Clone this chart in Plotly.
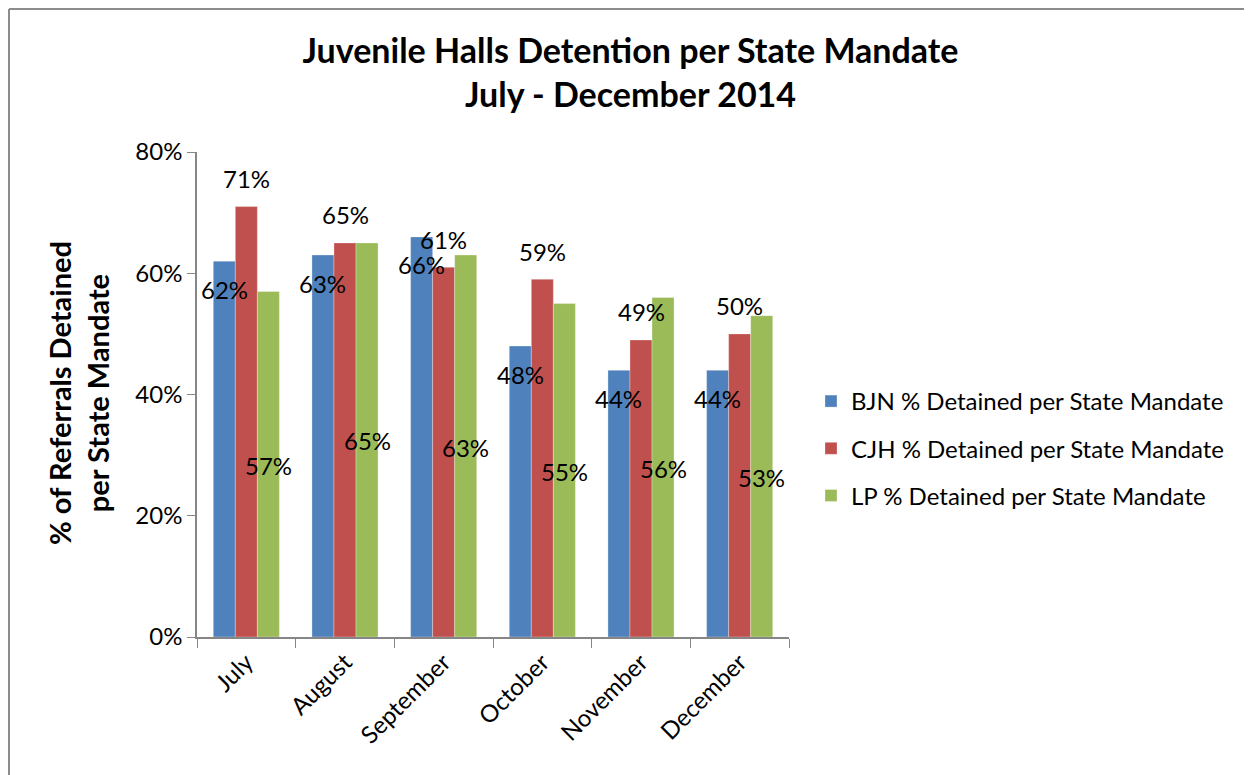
import plotly.graph_objects as go

months = ["July", "August", "September", "October", "November", "December"]
series_names = ["BJN % Detained per State Mandate",
                "CJH % Detained per State Mandate",
                "LP % Detained per State Mandate"]
bjn = [0.62, 0.63, 0.66, 0.48, 0.44, 0.44]
cjh = [0.71, 0.65, 0.61, 0.59, 0.49, 0.50]
lp = [0.57, 0.65, 0.63, 0.55, 0.56, 0.53]
colors = ["#4F81BD", "#C0504D", "#9BBB59"]
y_ticks = [0, 0.2, 0.4, 0.6, 0.8]

OFF = 8  # page body margin
W, H = 1252 - OFF, 775 - OFF
L, T = 197 - OFF, 152 - OFF
R = W - (789 - OFF)
B = H - (637 - OFF)
plot_w = W - L - R
plot_h = H - T - B
BARGAP = 0.33
FONT = "Lato, 'Liberation Sans', sans-serif"

fig = go.Figure()
all_series = [bjn, cjh, lp]
for i, (name, vals) in enumerate(zip(series_names, all_series)):
    fig.add_trace(go.Bar(
        x=months, y=vals, name=name, marker_color=colors[i],
        marker_line_width=0.5, marker_line_color="rgba(255,255,255,0.6)",
        legendgroup=f"g{i}", hoverinfo="skip"))

# screen px -> paper
px2x = lambda px: (px - OFF - L) / plot_w
py2y = lambda py: (H - B - (py - OFF)) / plot_h

cat_w = plot_w / len(months)
bar_w = cat_w * (1 - BARGAP) / 3
annots = []
for m, v in zip(months, bjn):
    annots.append(dict(x=m, y=v, text=f"{round(v*100)}%", xshift=-bar_w, yshift=-28,
                       showarrow=False, xref="x", yref="y"))
for m, v in zip(months, cjh):
    annots.append(dict(x=m, y=v, text=f"{round(v*100)}%", xshift=0, yshift=28,
                       showarrow=False, xref="x", yref="y"))
for m, v in zip(months, lp):
    annots.append(dict(x=m, y=v / 2, text=f"{round(v*100)}%", xshift=bar_w, yshift=-1,
                       showarrow=False, xref="x", yref="y"))

annots.append(dict(text="<b>% of Referrals Detained<br>per State Mandate</b>",
                   xref="paper", yref="paper", x=px2x(78), y=py2y(393),
                   textangle=-90, showarrow=False, font=dict(size=29, family=FONT, color="black"),
                   xanchor="center", yanchor="middle"))

shapes = [
    dict(type="line", xref="paper", yref="paper", x0=px2x(9), x1=px2x(9), y0=py2y(9), y1=py2y(800),
         line=dict(color="#8C8C8C", width=2)),
    dict(type="line", xref="paper", yref="paper", x0=px2x(9), x1=px2x(1300), y0=py2y(9), y1=py2y(9),
         line=dict(color="#8C8C8C", width=2)),
]

fig.update_layout(
    width=W, height=H,
    margin=dict(l=L, r=R, t=T, b=B, pad=0),
    paper_bgcolor="white", plot_bgcolor="white",
    barmode="group", bargap=BARGAP, bargroupgap=0,
    font=dict(family=FONT, size=24, color="black"),
    title=dict(text="<b>Juvenile Halls Detention per State Mandate<br>July - December 2014</b>",
               x=px2x(630.5), xref="paper", xanchor="center", y=1 - 55 / H, yanchor="middle",
               font=dict(size=34, family=FONT, color="black")),
    xaxis=dict(showline=True, linecolor="#868686", linewidth=1.5, ticks="outside", ticklen=9,
               tickcolor="#868686", tickson="boundaries", tickangle=-45,
               tickfont=dict(size=24), showgrid=False),
    yaxis=dict(range=[0, 0.8], tickvals=y_ticks, tickformat=".0%", showline=True,
               linecolor="#868686", linewidth=1.5, ticks="outside", ticklen=8, tickcolor="#868686",
               showgrid=False, zeroline=False, tickfont=dict(size=24)),
    legend=dict(x=px2x(811), y=py2y(379), xanchor="left", yanchor="top",
                font=dict(size=24), tracegroupgap=13, traceorder="grouped"),
    annotations=annots, shapes=shapes,
)

fig.write_html("out.html")
